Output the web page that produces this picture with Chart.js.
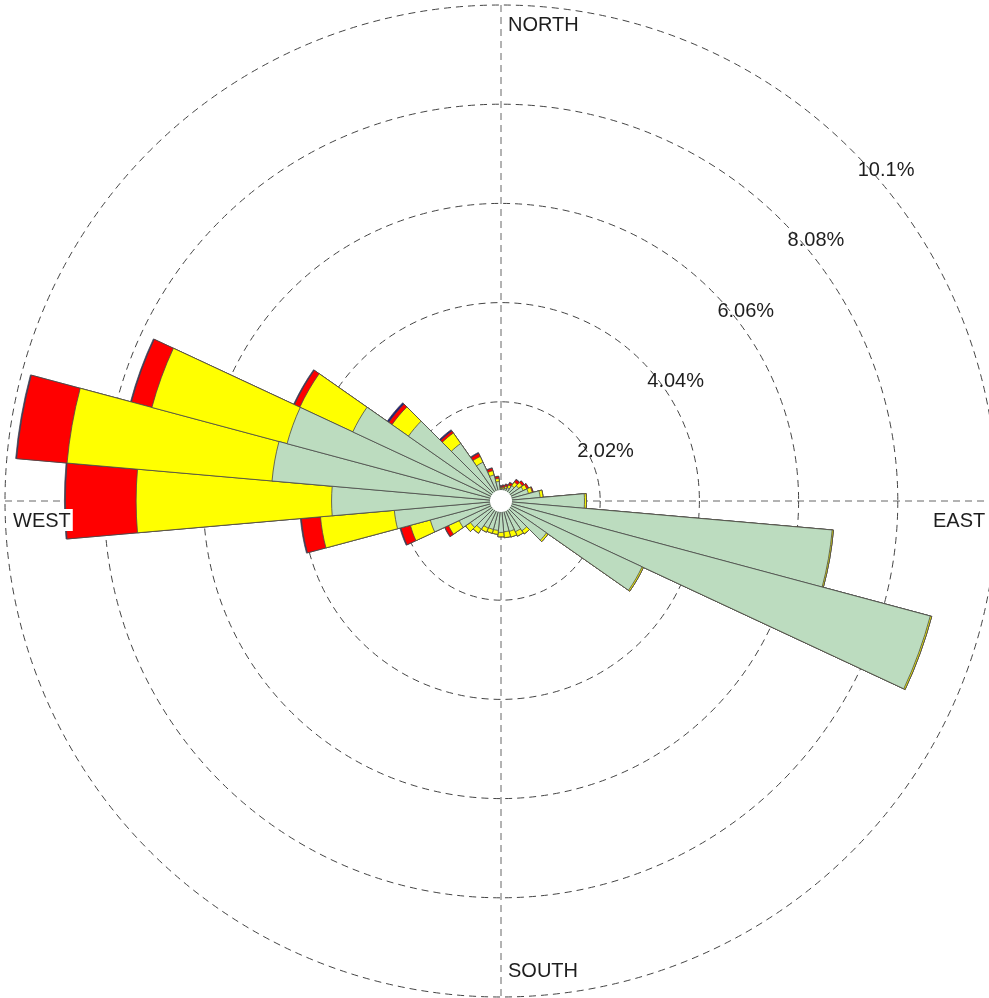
<!DOCTYPE html>
<html>
<head>
<meta charset="utf-8">
<script src="https://cdn.jsdelivr.net/npm/chart.js@4.4.1/dist/chart.umd.min.js"></script>
<style>
  html, body { margin: 0; padding: 0; background: #fff; overflow: hidden; }
  #wrap { position: relative; width: 1002px; height: 1002px; }
</style>
</head>
<body>
<div id="wrap"><canvas id="rose" width="1002" height="1002"></canvas></div>
<script>
// wind directions, 10 degree sectors, clockwise from north
const directions = Array.from({ length: 36 }, (_, i) => (i * 10) + '°');

// frequency (%) per speed class, one value per direction
const green = [0.24, 0.25, 0.27, 0.30, 0.38, 0.44, 0.50, 0.58, 0.80, 1.70, 6.77, 9.05,
               3.17, 1.13, 0.74, 0.69, 0.64, 0.63, 0.64, 0.60, 0.60, 0.61, 0.70, 0.76,
               0.94, 1.49, 2.18, 3.45, 4.68, 4.51, 3.33, 2.30, 1.43, 0.87, 0.55, 0.40];
const yellow = [0.03, 0.03, 0.04, 0.06, 0.09, 0.09, 0.08, 0.08, 0.06, 0.04, 0.025, 0.03,
                0.03, 0.04, 0.08, 0.10, 0.12, 0.12, 0.09, 0.08, 0.08, 0.09, 0.10, 0.12,
                0.24, 0.42, 1.51, 3.98, 4.19, 2.85, 1.19, 0.41, 0.26, 0.13, 0.09, 0.06];
const red = [0.03, 0.04, 0.04, 0.05, 0.06, 0.05, 0.04, 0.02, 0, 0, 0, 0,
             0, 0, 0, 0, 0, 0, 0, 0, 0, 0, 0, 0,
             0.08, 0.20, 0.39, 1.44, 1.03, 0.43, 0.12, 0.08, 0.05, 0.07, 0.05, 0.04];
const navy = [0.01, 0.01, 0.01, 0.01, 0.01, 0, 0, 0, 0, 0, 0, 0,
              0, 0, 0, 0, 0, 0, 0, 0, 0, 0, 0, 0,
              0.01, 0.02, 0.02, 0.02, 0.02, 0.02, 0.02, 0.04, 0.03, 0.02, 0.01, 0.01];

const tickValues = [2.02, 4.04, 6.06, 8.08, 10.1];
const tickLabels = ['2.02%', '4.04%', '6.06%', '8.08%', '10.1%'];
const compassLabels = ['NORTH', 'EAST', 'SOUTH', 'WEST'];

const COLORS = ['#bcdcbf', '#ffff00', '#ff0000', '#1c1c82'];
const FONT = '20px "Liberation Sans", Arial, sans-serif';

// overlaid cumulative rings, first dataset is drawn on top
const stack = (...parts) => parts[0].map((_, i) => parts.reduce((s, p) => s + p[i], 0));
const layers = [
    stack(green),
    stack(green, yellow),
    stack(green, yellow, red),
    stack(green, yellow, red, navy),
];

const roseDecor = {
    id: 'roseDecor',
    beforeDatasetsDraw(chart) {
        const s = chart.scales.r;
        const ctx = chart.ctx;
        const R = s.getDistanceFromCenterForValue(tickValues[tickValues.length - 1]);
        ctx.save();
        ctx.strokeStyle = '#666';
        ctx.lineWidth = 1;
        ctx.setLineDash([7, 5]);
        ctx.beginPath();
        ctx.moveTo(s.xCenter, s.yCenter - R);
        ctx.lineTo(s.xCenter, s.yCenter + R);
        ctx.moveTo(s.xCenter - R, s.yCenter);
        ctx.lineTo(s.xCenter + R, s.yCenter);
        ctx.stroke();
        ctx.restore();
    },
    afterDatasetsDraw(chart) {
        const s = chart.scales.r;
        const ctx = chart.ctx;
        const cx = s.xCenter, cy = s.yCenter;
        const R = s.getDistanceFromCenterForValue(tickValues[tickValues.length - 1]);

        // calm hole in the middle
        ctx.save();
        ctx.fillStyle = '#fff';
        ctx.beginPath();
        ctx.arc(cx, cy, 11, 0, Math.PI * 2);
        ctx.fill();

        ctx.font = FONT;
        ctx.fillStyle = '#1e1e1e';
        ctx.textBaseline = 'alphabetic';
        ctx.textAlign = 'left';

        tickValues.forEach((v, i) => {
            const r = s.getDistanceFromCenterForValue(v) * Math.SQRT1_2;
            ctx.fillText(tickLabels[i], cx + r + 6, cy - r + 26);
        });

        const spots = [
            [cx + 7, cy - R + 26],
            [cx + R - 64, cy + 26],
            [cx + 7, cy + R - 20],
            [cx - R + 8, cy + 26],
        ];
        compassLabels.forEach((txt, i) => {
            const [x, y] = spots[i];
            const w = ctx.measureText(txt).width;
            ctx.fillStyle = '#fff';
            ctx.fillRect(x - 2, y - 18, w + 4, 22);
            ctx.fillStyle = '#1e1e1e';
            ctx.fillText(txt, x, y);
        });
        ctx.restore();
    }
};

new Chart(document.getElementById('rose'), {
    type: 'polarArea',
    data: {
        labels: directions,
        datasets: layers.map((data, i) => ({
            data,
            backgroundColor: COLORS[i],
            borderColor: '#4a4a4a',
            borderWidth: 0.8,
        })),
    },
    options: {
        responsive: false,
        animation: false,
        events: [],
        layout: { padding: 5 },
        plugins: { legend: { display: false }, tooltip: { enabled: false } },
        scales: {
            r: {
                min: 0,
                max: 10.1,
                startAngle: -5,
                afterBuildTicks: (scale) => {
                    scale.ticks = [0, ...tickValues].map((v) => ({ value: v }));
                },
                ticks: { display: false },
                grid: { circular: true, color: '#444', lineWidth: 1 },
                border: { dash: [7, 5] },
                angleLines: { display: false },
                pointLabels: { display: false },
            },
        },
    },
    plugins: [roseDecor],
});
</script>
</body>
</html>
